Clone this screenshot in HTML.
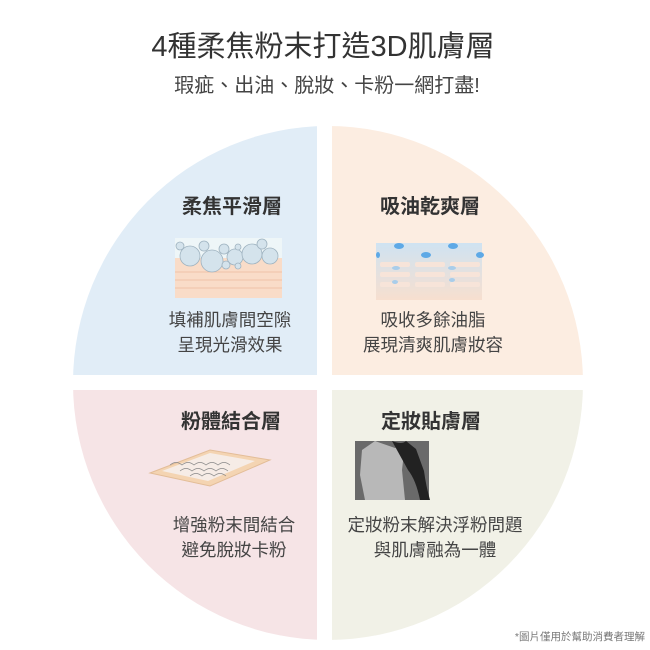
<!DOCTYPE html>
<html><head><meta charset="utf-8"><style>
html,body{margin:0;padding:0;background:#fff;width:650px;height:650px;overflow:hidden}
svg text{font-family:"Liberation Sans","Noto Sans CJK TC",sans-serif}
</style></head><body>
<svg width="650" height="650" viewBox="0 0 650 650">
<defs>
<clipPath id="c"><ellipse cx="328" cy="383" rx="255" ry="257"/></clipPath>
<linearGradient id="sk" x1="0" y1="0" x2="0" y2="1"><stop offset="0" stop-color="#cfe3f2"/><stop offset="1" stop-color="#f7dfcf"/></linearGradient>
</defs>
<g clip-path="url(#c)">
<rect x="60" y="120" width="257" height="255" fill="#e1edf7"/>
<rect x="332" y="120" width="260" height="255" fill="#fcede1"/>
<rect x="60" y="390" width="257" height="260" fill="#f6e4e6"/>
<rect x="332" y="390" width="260" height="260" fill="#f1f1e7"/>
</g>
<text x="323" y="56" font-size="29" fill="#333" text-anchor="middle">4種柔焦粉末打造3D肌膚層</text>
<text x="327" y="92" font-size="20" fill="#444" text-anchor="middle">瑕疵、出油、脫妝、卡粉一網打盡!</text>

<g font-size="20" font-weight="bold" fill="#333" text-anchor="middle">
<text x="232" y="213">柔焦平滑層</text>
<text x="430" y="213">吸油乾爽層</text>
<text x="231" y="428">粉體結合層</text>
<text x="431" y="428">定妝貼膚層</text>
</g>

<g font-size="17.5" fill="#444" text-anchor="middle">
<text x="230" y="326">填補肌膚間空隙</text>
<text x="230" y="351">呈現光滑效果</text>
<text x="433" y="326">吸收多餘油脂</text>
<text x="433" y="351">展現清爽肌膚妝容</text>
<text x="234" y="531">增強粉末間結合</text>
<text x="234" y="556">避免脫妝卡粉</text>
<text x="435" y="531">定妝粉末解決浮粉問題</text>
<text x="435" y="556">與肌膚融為一體</text>
</g>
<text x="645" y="640" font-size="10.5" fill="#777" text-anchor="end">*圖片僅用於幫助消費者理解</text>

<!-- TL image -->
<rect x="175" y="238" width="107" height="20" fill="#eef6f8"/>
<rect x="175" y="258" width="107" height="40" fill="#f9dcc8"/>
<g stroke="#f0c2a8" stroke-width="1"><line x1="175" y1="272" x2="282" y2="272"/><line x1="175" y1="280" x2="282" y2="280"/><line x1="175" y1="288" x2="282" y2="288"/></g>
<g fill="#d4e3ec" stroke="#9fb3c0" stroke-width="0.8">
<circle cx="190" cy="256" r="10"/><circle cx="212" cy="261" r="11"/><circle cx="235" cy="257" r="8"/><circle cx="252" cy="254" r="10"/><circle cx="270" cy="256" r="8"/>
<circle cx="180" cy="246" r="4"/><circle cx="204" cy="246" r="5"/><circle cx="224" cy="249" r="5"/><circle cx="238" cy="247" r="3"/><circle cx="262" cy="244" r="5"/><circle cx="226" cy="265" r="4"/><circle cx="238" cy="266" r="3"/>
</g>
<!-- TR image -->
<rect x="376" y="243" width="106" height="57" fill="url(#sk)"/>
<g fill="#f7e4d9"><rect x="380" y="262" width="30" height="5" rx="2"/><rect x="415" y="262" width="30" height="5" rx="2"/><rect x="450" y="262" width="30" height="5" rx="2"/><rect x="380" y="272" width="30" height="5" rx="2"/><rect x="415" y="272" width="30" height="5" rx="2"/><rect x="450" y="272" width="30" height="5" rx="2"/><rect x="380" y="282" width="30" height="5" rx="2"/><rect x="415" y="282" width="30" height="5" rx="2"/><rect x="450" y="282" width="30" height="5" rx="2"/></g>
<g fill="#5ea9e6"><ellipse cx="399" cy="246" rx="5" ry="3"/><ellipse cx="453" cy="246" rx="5" ry="3"/><ellipse cx="426" cy="255" rx="5" ry="3"/><ellipse cx="480" cy="255" rx="4" ry="3"/><ellipse cx="378" cy="255" rx="2" ry="3"/></g>
<g fill="#a9cdea"><ellipse cx="396" cy="268" rx="4" ry="2"/><ellipse cx="452" cy="268" rx="4" ry="2"/><ellipse cx="395" cy="282" rx="3" ry="2"/><ellipse cx="452" cy="280" rx="3" ry="2"/></g>
<!-- BL image -->
<polygon points="150,473 210,450 270,460 210,486" fill="#f4d4b2" stroke="#e3bd98"/>
<polygon points="162,471 210,453 255,461 208,481" fill="#f6ece6"/>
<g stroke="#888" stroke-width="0.7" fill="none">
<path d="M170,465 q6,-5 12,0 q6,-5 12,0 q6,-5 12,0 q6,-5 12,0 q6,-5 12,0"/>
<path d="M180,471 q6,-5 12,0 q6,-5 12,0 q6,-5 12,0 q6,-5 12,0"/>
<path d="M190,476 q6,-5 12,0 q6,-5 12,0 q6,-5 12,0"/>
</g>
<!-- BR image -->
<rect x="355" y="441" width="74" height="59" fill="#6a6a6a"/>
<polygon points="362,450 375,441 395,448 405,444 402,470 405,500 365,500 360,475" fill="#b8b8b8"/>
<path d="M392,441 q10,4 14,0 l10,8 l8,22 q2,15 6,29 l-10,0 q-4,-20 -12,-30 z" fill="#222"/>
</svg>
</body></html>
